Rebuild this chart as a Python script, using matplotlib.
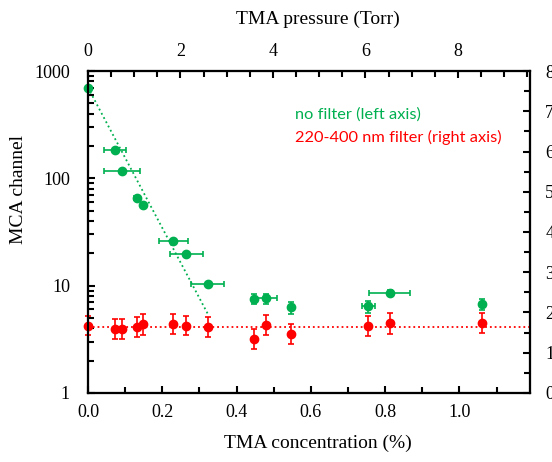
import matplotlib
matplotlib.use("Agg")
import matplotlib.pyplot as plt
from matplotlib.ticker import MultipleLocator, LogLocator, NullFormatter, FuncFormatter

# data
conc = [0.0, 0.073, 0.092, 0.133, 0.147, 0.230, 0.265, 0.322, 0.448, 0.478, 0.547, 0.755, 0.812, 1.06]

# no filter, left axis (MCA channel, log)
mca_green = [700, 184, 118, 65, 56, 26, 19.7, 10.3, 7.5, 7.6, 6.3, 6.4, 8.6, 6.75]
green_xerr = [0, 0.029, 0.048, 0.008, 0, 0.040, 0.045, 0.045, 0.006, 0.030, 0, 0.018, 0.056, 0]
green_yerr = [0, 0, 0, 0, 0, 0, 0, 0, 0.8, 0.8, 0.8, 0.8, 0.6, 0.8]
fit_x = [0.0, 0.322]
fit_y = [700, 5.5]

# 220-400 nm filter, right axis (linear)
mca_red = [1.67, 1.59, 1.60, 1.64, 1.71, 1.72, 1.67, 1.64, 1.35, 1.68, 1.47, 1.66, 1.73, 1.73]
red_yerr = [0.24, 0.25, 0.25, 0.24, 0.26, 0.25, 0.24, 0.24, 0.25, 0.25, 0.25, 0.25, 0.26, 0.25]
red_level = 1.64

GREEN = "#00B050"
RED = "#FF0000"
serif = ["Liberation Serif", "DejaVu Serif"]

plt.rcParams["font.family"] = serif
plt.rcParams["axes.linewidth"] = 1.5

fig = plt.figure(figsize=(5.52, 4.62), dpi=100)
ax = fig.add_axes([0.1594, 0.1494, 0.8007, 0.6969])

xmax = 1.19
ax.set_xlim(0, xmax)
ax.set_yscale("log")
ax.set_ylim(1, 1000)

ax.plot(fit_x, fit_y, linestyle=":", color=GREEN, lw=1.3)
ax.errorbar(conc, mca_green, xerr=green_xerr, yerr=green_yerr, fmt="o", color=GREEN,
            ms=6, elinewidth=1.2, capsize=2.5, capthick=1.2, clip_on=False, zorder=3)

ax_r = ax.twinx()
ax_r.set_ylim(0, 8)
ax_r.axhline(red_level, linestyle=":", color=RED, lw=1.3)
ax_r.errorbar(conc, mca_red, yerr=red_yerr, fmt="o", color=RED,
              ms=6, elinewidth=1.2, capsize=2.5, capthick=1.2, clip_on=False, zorder=3)

ax_t = ax.twiny()
ax_t.set_xlim(0, 9.56)

# ticks
ax.xaxis.set_major_locator(MultipleLocator(0.2))
ax.xaxis.set_minor_locator(MultipleLocator(0.1))
ax.xaxis.set_major_formatter(FuncFormatter(lambda v, p: f"{v:.1f}"))
ax.yaxis.set_major_locator(LogLocator(base=10, numticks=10))
ax.yaxis.set_minor_locator(LogLocator(base=10, subs=range(2, 10), numticks=10))
ax.yaxis.set_minor_formatter(NullFormatter())
ax.yaxis.set_major_formatter(FuncFormatter(lambda v, p: f"{v:g}"))

ax_r.yaxis.set_major_locator(MultipleLocator(1))
ax_r.yaxis.set_minor_locator(MultipleLocator(0.5))
ax_t.xaxis.set_major_locator(MultipleLocator(2))
ax_t.xaxis.set_minor_locator(MultipleLocator(0.5))

for a in (ax, ax_r, ax_t):
    a.tick_params(which="major", direction="in", length=5, width=1.5, labelsize=13, pad=8)
    a.tick_params(which="minor", direction="in", length=4, width=1.5)
ax.tick_params(axis="x", which="both", top=False)
ax.tick_params(axis="y", which="major", pad=13)
ax_r.tick_params(axis="y", which="major", pad=11)

# labels
fig.text(0.576, 0.041, "TMA concentration (%)", ha="center", va="center", fontsize=14)
fig.text(0.576, 0.959, "TMA pressure (Torr)", ha="center", va="center", fontsize=14)
fig.text(0.033, 0.589, "MCA channel", ha="center", va="center", rotation=90, fontsize=14)

fig.text(295 / 552, 1 - 115 / 462, "no filter (left axis)", color=GREEN, fontsize=11.8,
         family=["Lato", "DejaVu Sans"], ha="left", va="center")
fig.text(295 / 552, 1 - 137 / 462, "220-400 nm filter (right axis)", color=RED, fontsize=11.8,
         family=["Lato", "DejaVu Sans"], ha="left", va="center")

fig.savefig("out.png", dpi=100)
